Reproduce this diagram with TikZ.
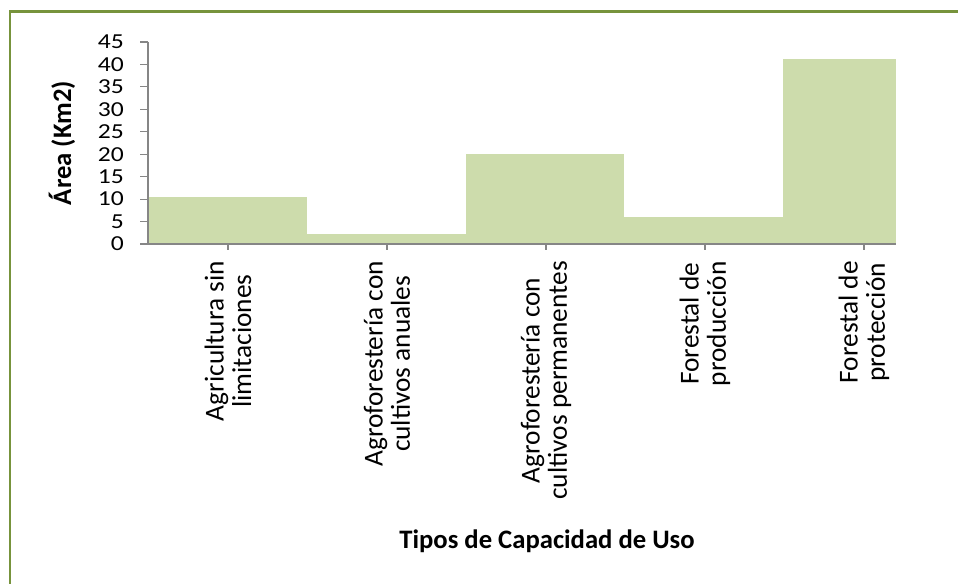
\documentclass[tikz,border=0pt]{standalone}
\usepackage{fontspec}
\setmainfont{Carlito}
\newfontfamily\tickfont[FakeStretch=1.2]{Carlito}
\definecolor{barfill}{HTML}{CDDCAC}
\definecolor{axisgray}{HTML}{868686}
\definecolor{frame}{HTML}{77933C}
\begin{document}
\begin{tikzpicture}[x=0.75pt,y=-0.75pt,
  bar/.style={fill=barfill,draw=none},
  axisline/.style={draw=axisgray,line width=0.9pt},
  ticklabel/.style={font=\tickfont\fontsize{16}{16}\selectfont,anchor=east,inner sep=0pt},
  catlabel/.style={font=\fontsize{20.5}{20.5}\selectfont,rotate=90,anchor=east,align=center,inner sep=0pt},
  axtitle/.style={font=\bfseries\fontsize{20}{20}\selectfont,inner sep=0pt}]
\useasboundingbox (0,0) rectangle (958,584);
% frame
\draw[frame,line width=2pt] (10,586) -- (10,11.5) -- (960,11.5);
% bars
\fill[bar] (148,244) rectangle (307,196.9);
\fill[bar] (307,244) rectangle (466,233.7);
\fill[bar] (466,244) rectangle (624,154.2);
\fill[bar] (624,244) rectangle (783,217.0);
\fill[bar] (783,244) rectangle (896,59.3);
% axes
\coordinate (o) at (148,244);
\coordinate (ytop) at (148,42);
\coordinate (xend) at (896,244);
\draw[axisline] (ytop) -- (o) -- (xend);
\foreach \v in {0,5,...,45}{
  \draw[axisline] (140,{244-4.489*\v}) -- (148,{244-4.489*\v});
  \node[ticklabel] (t\v) at (124,{244-4.489*\v}) {\v};
}
\foreach \c in {228,387,546,705,864}{
  \draw[axisline] (\c,244) -- (\c,250);
}
% category labels
\node[catlabel] (c1) at (228,261) {Agricultura sin\\limitaciones};
\node[catlabel] (c2) at (387,261) {Agroforestería con\\cultivos anuales};
\node[catlabel] (c3) at (546,261) {Agroforestería con\\cultivos permanentes};
\node[catlabel] (c4) at (705,261) {Forestal de\\producción};
\node[catlabel] (c5) at (864,261) {Forestal de\\protección};
% titles
\node[axtitle,rotate=90] (yt) at (62,143) {Área (Km2)};
\node[axtitle] (xt) at (547,541) {Tipos de Capacidad de Uso};
\end{tikzpicture}
\end{document}
